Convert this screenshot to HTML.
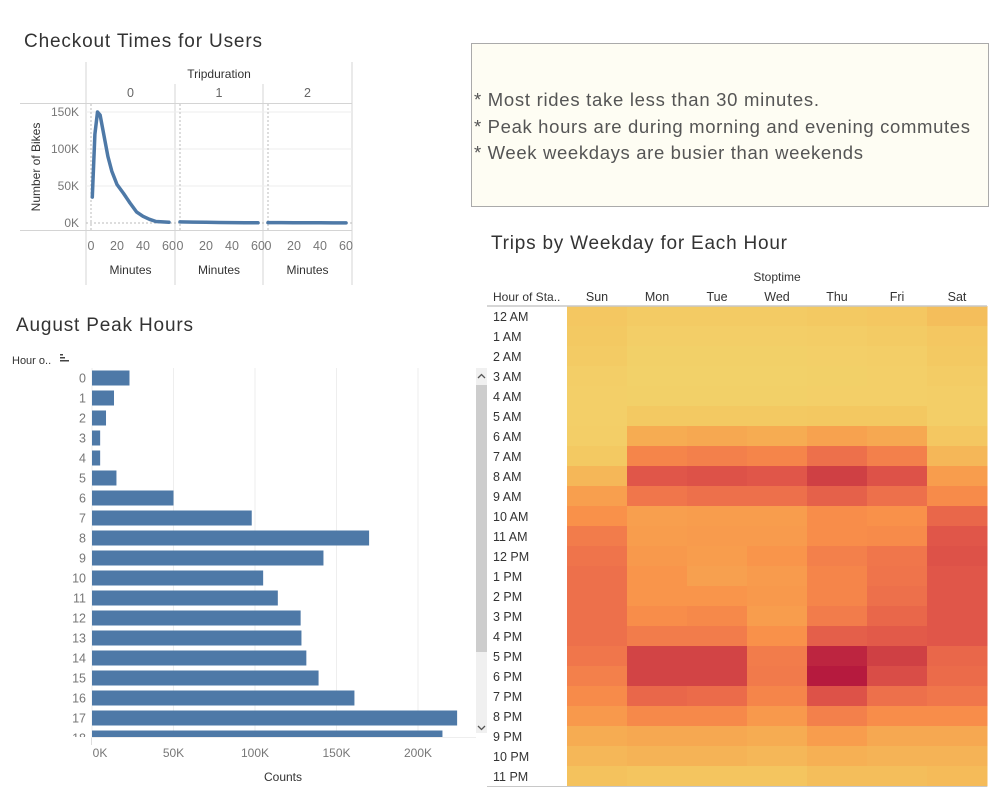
<!DOCTYPE html>
<html><head><meta charset="utf-8"><style>
html,body{margin:0;padding:0;background:#fff;}
svg{display:block;font-family:"Liberation Sans",sans-serif;}
</style></head><body>
<svg id="dash" width="999" height="801" viewBox="0 0 999 801" xmlns="http://www.w3.org/2000/svg">
<text x="24" y="47" font-size="19" fill="#333" textLength="238">Checkout Times for Users</text>
<text x="16" y="331" font-size="19" fill="#333" textLength="177">August Peak Hours</text>
<text x="491" y="249" font-size="19" fill="#333" textLength="296">Trips by Weekday for Each Hour</text>

<g>
<rect x="471.5" y="43.5" width="517" height="163" fill="#fefdf3" stroke="#aaa"/>
<text x="474" y="106" font-size="18.5" fill="#555" textLength="345">* Most rides take less than 30 minutes.</text>
<text x="474" y="133" font-size="18.5" fill="#555" textLength="496">* Peak hours are during morning and evening commutes</text>
<text x="474" y="159" font-size="18.5" fill="#555" textLength="389">* Week weekdays are busier than weekends</text>
</g>

<g id="linechart"></g>
<g id="barchart"></g>
<g id="heatmap"></g>
</svg>
<script>
// ---- line chart data ----
const lineMinutes0 = [1, 3, 5, 7, 10, 13, 16, 20, 25, 30, 35, 40, 45, 50, 55, 60];
const lineValues0 = [35, 120, 150, 146, 118, 90, 70, 52, 40, 27, 15, 9, 5, 2, 1.5, 1];
const lineMinutes1 = [0, 10, 20, 30, 40, 50, 60];
const lineValues1 = [1.5, 1.2, 0.9, 0.7, 0.5, 0.4, 0.3];
const lineMinutes2 = [0, 10, 20, 30, 40, 50, 60];
const lineValues2 = [0.6, 0.5, 0.4, 0.3, 0.3, 0.2, 0.2];
const lineYTicks = [0, 50, 100, 150];
const lineYTickLabels = ["0K", "50K", "100K", "150K"];
const lineXTicks = [0, 20, 40, 60];
const panelLabels = ["0", "1", "2"];

// ---- bar chart data ----
const barHours = ["0","1","2","3","4","5","6","7","8","9","10","11","12","13","14","15","16","17","18"];
const barCounts = [23, 13.5, 8.6, 5, 5, 15, 50, 98, 170, 142, 105, 114, 128, 128.5, 131.5, 139, 161, 224, 215];
const barXTicks = [0, 50, 100, 150, 200];
const barXTickLabels = ["0K", "50K", "100K", "150K", "200K"];

// ---- heatmap data ----
const days = ["Sun","Mon","Tue","Wed","Thu","Fri","Sat"];
const hourLabels = ["12 AM","1 AM","2 AM","3 AM","4 AM","5 AM","6 AM","7 AM","8 AM","9 AM","10 AM","11 AM","12 PM","1 PM","2 PM","3 PM","4 PM","5 PM","6 PM","7 PM","8 PM","9 PM","10 PM","11 PM"];
const heatSun = [12,10,8,5,4,4,5,10,22,35,42,52,56,58,58,58,58,55,50,45,38,28,22,16];
const heatMon = [8,5,3,2,3,10,28,48,70,55,35,36,38,40,40,44,52,80,80,62,46,30,24,14];
const heatTue = [8,5,3,2,3,10,30,50,72,58,36,37,36,34,40,46,52,80,80,60,46,30,24,14];
const heatWed = [8,5,3,2,3,10,28,48,70,58,36,37,40,37,38,36,42,52,53,48,38,28,22,14];
const heatThu = [10,6,4,3,4,11,33,58,82,65,44,44,50,48,48,52,66,95,100,72,50,36,26,18];
const heatFri = [12,8,5,4,4,11,30,50,72,58,42,45,55,56,58,62,68,82,75,58,44,30,24,18];
const heatSat = [18,12,10,7,5,5,12,22,36,45,62,70,72,70,70,70,70,62,60,55,44,30,24,20];
const heatSeries = [heatSun, heatMon, heatTue, heatWed, heatThu, heatFri, heatSat];

const NS = "http://www.w3.org/2000/svg";
function mk(parent, tag, attrs, text) {
  const e = document.createElementNS(NS, tag);
  for (const k in attrs) e.setAttribute(k, attrs[k]);
  if (text !== undefined) e.textContent = text;
  parent.appendChild(e);
  return e;
}

// ================= LINE CHART =================
(function(){
  const g = document.getElementById('linechart');
  const panelLeft = [86, 175, 263], panelW = [89, 88, 89];
  const yScale = v => 223 - v * 0.74;
  const xScale = (p, m) => panelLeft[p] + 5 + m * 78 / 60;
  mk(g,'line',{x1:86,y1:62,x2:86,y2:285,stroke:'#d4d4d4'});
  mk(g,'line',{x1:352,y1:62,x2:352,y2:285,stroke:'#d4d4d4'});
  mk(g,'line',{x1:175,y1:84,x2:175,y2:285,stroke:'#d4d4d4'});
  mk(g,'line',{x1:263,y1:84,x2:263,y2:285,stroke:'#d4d4d4'});
  mk(g,'line',{x1:20,y1:103.5,x2:352,y2:103.5,stroke:'#d4d4d4'});
  mk(g,'line',{x1:20,y1:230.5,x2:352,y2:230.5,stroke:'#d4d4d4'});
  const t = mk(g,'text',{x:219,y:78,'font-size':12,'text-anchor':'middle',fill:'#333'},'Tripduration');
  
  
  const yt = mk(g,'text',{x:0,y:0,'font-size':12,'text-anchor':'middle',fill:'#333',transform:'translate(40,167) rotate(-90)'},'Number of Bikes');
  
  
  lineYTicks.forEach((v,i)=>{
    const y = yScale(v);
    mk(g,'line',{x1:86,y1:y,x2:352,y2:y,stroke:v===0?'#bbb':'#eee','stroke-dasharray':v===0?'2,2':''});
    const l = mk(g,'text',{x:79,y:y+4,'font-size':12,'text-anchor':'end',fill:'#777'},lineYTickLabels[i]);
    
    
  });
  const series = [[lineMinutes0,lineValues0],[lineMinutes1,lineValues1],[lineMinutes2,lineValues2]];
  series.forEach((s,p)=>{
    const x0 = xScale(p,0);
    mk(g,'line',{x1:x0,y1:104,x2:x0,y2:230,stroke:'#bbb','stroke-dasharray':'2,2'});
    const h = mk(g,'text',{x:panelLeft[p]+panelW[p]/2,y:97,'font-size':12.5,'text-anchor':'middle',fill:'#666'},panelLabels[p]);
    
    
    lineXTicks.forEach(m=>{
      const l = mk(g,'text',{x:xScale(p,m),y:250,'font-size':12.5,'text-anchor':'middle',fill:'#777'},String(m));
      
      
    });
    const mt = mk(g,'text',{x:panelLeft[p]+panelW[p]/2,y:274,'font-size':12,'text-anchor':'middle',fill:'#333'},'Minutes');
    
    
    let d = '';
    s[0].forEach((m,i)=>{ d += (i?'L':'M') + xScale(p,m).toFixed(1) + ',' + yScale(s[1][i]).toFixed(1); });
    const path = mk(g,'path',{d:d,fill:'none',stroke:'#4e79a7','stroke-width':3.5,'stroke-linejoin':'round','stroke-linecap':'round'});
    
    
  });
})();

// ================= BAR CHART =================
(function(){
  const g = document.getElementById('barchart');
  const x = v => 92 + v * 1.63;
  const rowY = i => 378 + i * 20;
  const hl = mk(g,'text',{x:12,y:364,'font-size':11,fill:'#333'},'Hour o..');
  
  
  const sortIcon = mk(g,'g',{});
  
  
  mk(sortIcon,'rect',{x:60,y:354,width:3,height:1.5,fill:'#444'});
  mk(sortIcon,'rect',{x:60,y:357,width:5,height:1.5,fill:'#444'});
  mk(sortIcon,'rect',{x:60,y:360,width:9,height:1.5,fill:'#444'});
  const defs = mk(g,'defs',{});
  const cp = mk(defs,'clipPath',{id:'barclip'});
  mk(cp,'rect',{x:0,y:368,width:476,height:369});
  barXTicks.forEach((v,i)=>{
    mk(g,'line',{x1:x(v),y1:368,x2:x(v),y2:737,stroke:'#eee'});
    const l = mk(g,'text',{x:x(v)+(i===0?8:0),y:757,'font-size':12,'text-anchor':'middle',fill:'#777'},barXTickLabels[i]);
    
    
  });
  mk(g,'line',{x1:91.5,y1:737,x2:91.5,y2:745,stroke:'#ddd'});
  mk(g,'line',{x1:91,y1:737.5,x2:476,y2:737.5,stroke:'#eee'});
  const cg = mk(g,'g',{'clip-path':'url(#barclip)'});
  barHours.forEach((h,i)=>{
    const y = rowY(i);
    const r = mk(cg,'rect',{x:92,y:y-7.5,width:Math.max(0,x(barCounts[i])-92),height:15,fill:'#4e79a7'});
    
    
    const l = mk(cg,'text',{x:86,y:y+4.5,'font-size':12.5,'text-anchor':'end',fill:'#777'},h);
    
    
  });
  const ct = mk(g,'text',{x:283,y:781,'font-size':12,'text-anchor':'middle',fill:'#333'},'Counts');
  
  
  const sb = mk(g,'g',{});
  
  
  mk(sb,'rect',{x:476,y:368,width:11,height:365,fill:'#f0f0f0'});
  mk(sb,'rect',{x:476,y:385,width:11,height:267,fill:'#cdcdcd'});
  mk(sb,'path',{d:'M478,378 L481.5,374.5 L485,378',fill:'none',stroke:'#555','stroke-width':1.3});
  mk(sb,'path',{d:'M478,726 L481.5,729.5 L485,726',fill:'none',stroke:'#555','stroke-width':1.3});
})();

// ================= HEATMAP =================
(function(){
  const g = document.getElementById('heatmap');
  const colX = c => 567 + c * 60;
  const rowY = r => 306 + r * 20;
  const stops = [[0,[242,211,107]],[15,[244,196,94]],[28,[246,172,82]],[42,[249,145,74]],[55,[240,118,75]],[70,[224,86,73]],[82,[207,64,68]],[100,[182,26,62]]];
  function color(v){
    for (let i=1;i<stops.length;i++){
      if (v<=stops[i][0]){
        const a=stops[i-1], b=stops[i], t=(v-a[0])/(b[0]-a[0]);
        const c=a[1].map((q,k)=>Math.round(q+(b[1][k]-q)*t));
        return 'rgb('+c.join(',')+')';
      }
    }
    return 'rgb(182,26,62)';
  }
  const st = mk(g,'text',{x:777,y:281,'font-size':12,'text-anchor':'middle',fill:'#333'},'Stoptime');
  
  
  const hh = mk(g,'text',{x:493,y:301,'font-size':12,fill:'#333'},'Hour of Sta..');
  
  
  days.forEach((d,c)=>{
    const t = mk(g,'text',{x:colX(c)+30,y:301,'font-size':12.5,'text-anchor':'middle',fill:'#333'},d);
    
    
    heatSeries[c].forEach((v,r)=>{
      const cell = mk(g,'rect',{x:colX(c),y:rowY(r),width:60.5,height:20.5,fill:color(v)});
      
      
    });
  });
  hourLabels.forEach((h,r)=>{
    const t = mk(g,'text',{x:493,y:rowY(r)+15,'font-size':12.5,fill:'#333'},h);
    
    
  });
  mk(g,'line',{x1:487,y1:306,x2:987,y2:306,stroke:'#c8c8c8','stroke-width':1.5});
  mk(g,'line',{x1:487,y1:786.5,x2:987,y2:786.5,stroke:'#c8c8c8'});
})();
</script>
</body></html>
